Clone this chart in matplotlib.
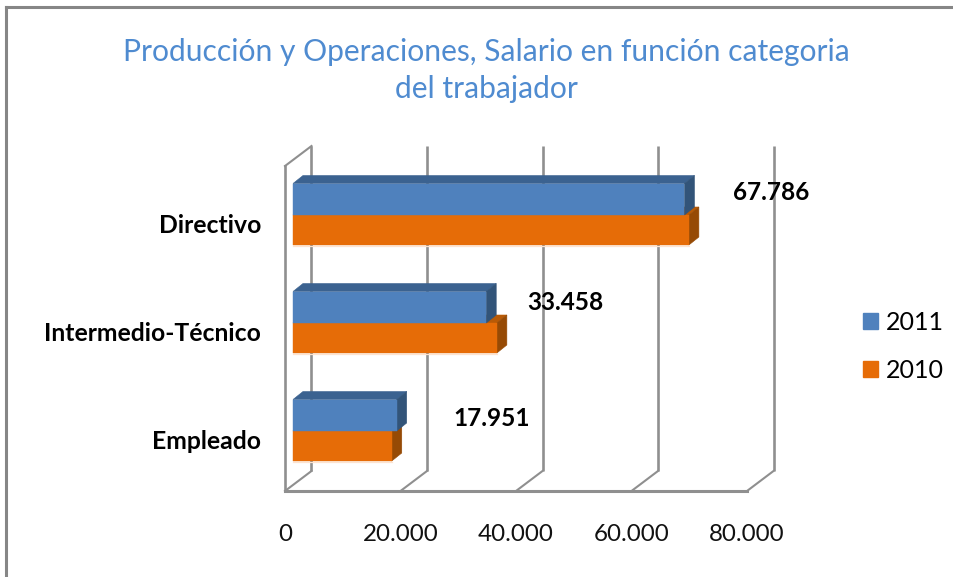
import matplotlib
matplotlib.use("Agg")
import matplotlib.pyplot as plt
from matplotlib.lines import Line2D
from matplotlib.patches import Patch

categories = ["Empleado", "Intermedio-Técnico", "Directivo"]
values_2011 = [17951, 33458, 67786]
values_2010 = [17100, 35300, 68550]
x_ticks = [0, 20000, 40000, 60000, 80000]
title = "Producción y Operaciones, Salario en función categoria\ndel trabajador"

W, H = 954, 577
plt.rcParams["font.family"] = ["Lato", "DejaVu Sans"]
fig = plt.figure(figsize=(W / 100, H / 100), dpi=100, facecolor="white")

# front plane of the 3-D box, in pixels
L, R, B, T = 285, 747, 491, 166
ax = fig.add_axes([L / W, 1 - B / H, (R - L) / W, (B - T) / H])
ax.set_xlim(0, 80000)
PX = 80000 / (R - L)   # data units of x per pixel
PY = 1 / 108           # data units of y per pixel
ax.set_ylim(-60 * PY, -60 * PY + (B - T) * PY)
ax.patch.set_visible(False)
for s in ax.spines.values():
    s.set_visible(False)

GRID = "#8f8f8f"
dxw, dyw = 26.5 * PX, 20 * PY     # depth of the walls
ymin, ymax = ax.get_ylim()
for t in x_ticks:
    ax.plot([t + dxw, t + dxw], [ymin + dyw, ymax + dyw], color=GRID, lw=1.9, clip_on=False, zorder=1, solid_capstyle="butt")
    ax.plot([t, t + dxw], [ymin, ymin + dyw], color=GRID, lw=1.5, clip_on=False, zorder=1)
ax.plot([0, 0], [ymin, ymax], color=GRID, lw=1.9, clip_on=False, zorder=1)
ax.plot([0, dxw], [ymax, ymax + dyw], color=GRID, lw=1.5, clip_on=False, zorder=1)
ax.plot([0, 80000], [ymin, ymin], color=GRID, lw=2.2, clip_on=False, zorder=1, solid_capstyle="projecting")

# bars
x0 = 8 * PX                    # bar start, inside the box depth
dxb, dyb = 10 * PX, 8 * PY     # depth of the bars
bh_up, bh_dn = 31.5 * PY, 30 * PY
C11, C11_TOP, C11_SIDE = "#4f81bd", "#3b6290", "#325479"
C10, C10_TOP, C10_SIDE = "#e66c07", "#b85a06", "#964a05"


def box(y0, y1, v, front, top, side, z):
    xe = x0 + v
    ax.fill([x0, xe, xe + dxb, x0 + dxb], [y1, y1, y1 + dyb, y1 + dyb], facecolor=top, edgecolor=top, lw=0.4, zorder=z)
    ax.fill([xe, xe + dxb, xe + dxb, xe], [y0, y0 + dyb, y1 + dyb, y1], facecolor=side, edgecolor=side, lw=0.4, zorder=z)
    ax.barh((y0 + y1) / 2, v, height=y1 - y0, left=x0, color=front, edgecolor=front, lw=0.3, zorder=z + 0.5)


for i, (a, b) in enumerate(zip(values_2011, values_2010)):
    ax.plot([x0, x0 + b], [i - bh_dn - 1 * PY] * 2, color="#fde3d0", lw=0.9, zorder=2)
    box(i - bh_dn, i, b, C10, C10_TOP, C10_SIDE, 3)
    box(i, i + bh_up, a, C11, C11_TOP, C11_SIDE, 4)

# data labels
label_offsets_px = [(95, 13), (79, 21), (87, 22)]
for i, (a, off) in enumerate(zip(values_2011, label_offsets_px)):
    ax.annotate(f"{a:,}".replace(",", "."), xy=(x0 + a, i), xytext=(off[0] * 0.72, off[1] * 0.72),
                textcoords="offset points", ha="center", va="center",
                fontsize=17.6, fontweight="bold", color="black", zorder=6)

# axes text
ax.set_xticks(x_ticks)
ax.set_xticklabels([f"{t:,}".replace(",", ".") for t in x_ticks], fontsize=17.4, color="#111111")
ax.set_yticks([i - 8.5 * PY for i in range(len(categories))])
ax.set_yticklabels(categories, fontsize=17.8, fontweight="bold", color="black")
ax.tick_params(axis="x", length=0, pad=23.5)
ax.tick_params(axis="y", length=0, pad=17.3)

fig.text(486 / W, 1 - 70.5 / H, title, ha="center", va="center", fontsize=21.6,
         color="#4f8bd0", linespacing=1.42)

handles = [Patch(color=C11), Patch(color=C10)]
fig.legend(handles, ["2011", "2010"], loc="center left", bbox_to_anchor=(863 / W, 1 - 346.5 / H),
           frameon=False, fontsize=18, handlelength=0.62, handleheight=0.58,
           handletextpad=0.3, labelspacing=1.0, borderpad=0, borderaxespad=0)

# chart-area frame
FR = "#868686"
fig.add_artist(Line2D([6 / W, 6 / W], [0, 1 - 7 / H], color=FR, lw=2.2, solid_capstyle="projecting"))
fig.add_artist(Line2D([6 / W, 1], [1 - 7 / H, 1 - 7 / H], color=FR, lw=2.2, solid_capstyle="projecting"))

fig.savefig("out.png", dpi=100)
